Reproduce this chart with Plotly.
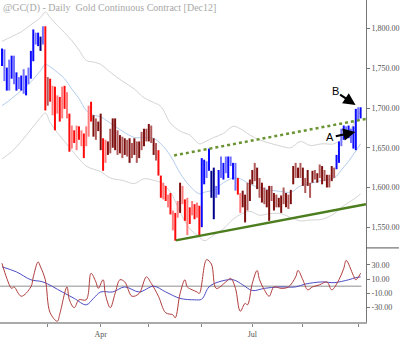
import plotly.graph_objects as go

# ---------------- data ----------------
title_text = "@GC(D) - Daily\u00a0\u00a0Gold Continuous Contract [Dec12]"

highs = [1775, 1774, 1751, 1761, 1766, 1766, 1745, 1739, 1741, 1749, 1741, 1751, 1772, 1799, 1795, 1795, 1790, 1803,
         1803, 1739, 1737, 1728, 1727, 1716, 1714, 1727, 1728, 1720, 1693, 1678, 1672, 1678, 1677, 1672, 1668, 1677,
         1703, 1708, 1691, 1687, 1683, 1693, 1662, 1660, 1658, 1674, 1687, 1687, 1672, 1666, 1664, 1662, 1660, 1662,
         1656, 1662, 1658, 1658, 1670, 1674, 1674, 1680, 1678, 1662, 1656, 1647, 1615, 1606, 1602, 1591, 1593, 1571,
         1568, 1583, 1606, 1602, 1585, 1587, 1575, 1583, 1579, 1581, 1577, 1637, 1635, 1633, 1649, 1621, 1625, 1602,
         1622, 1639, 1631, 1639, 1639, 1639, 1631, 1631, 1612, 1593, 1596, 1591, 1606, 1610, 1622, 1631, 1625, 1612,
         1606, 1600, 1597, 1602, 1602, 1593, 1591, 1587, 1590, 1600, 1593, 1591, 1597, 1627, 1631, 1625, 1631, 1625,
         1612, 1622, 1606, 1621, 1622, 1618, 1629, 1627, 1622, 1616, 1616, 1627, 1625, 1641, 1658, 1674, 1678, 1677,
         1678, 1674, 1677, 1699, 1701, 1701]
lows = [1753, 1734, 1722, 1722, 1737, 1730, 1722, 1724, 1722, 1718, 1716, 1730, 1737, 1759, 1780, 1778, 1772, 1780,
        1697, 1703, 1708, 1691, 1672, 1693, 1683, 1687, 1699, 1687, 1645, 1649, 1656, 1647, 1660, 1652, 1637, 1652,
        1664, 1683, 1664, 1660, 1671, 1647, 1621, 1631, 1641, 1643, 1650, 1647, 1641, 1643, 1637, 1641, 1639, 1631,
        1637, 1641, 1631, 1637, 1647, 1652, 1658, 1658, 1656, 1641, 1634, 1615, 1587, 1585, 1583, 1575, 1566, 1546,
        1533, 1562, 1568, 1579, 1558, 1540, 1554, 1565, 1560, 1562, 1538, 1550, 1604, 1612, 1621, 1587, 1560, 1587,
        1591, 1612, 1610, 1618, 1612, 1627, 1610, 1596, 1591, 1568, 1575, 1556, 1571, 1583, 1604, 1608, 1598, 1587,
        1581, 1579, 1575, 1558, 1583, 1571, 1575, 1575, 1568, 1579, 1575, 1573, 1579, 1604, 1612, 1612, 1612, 1602,
        1593, 1602, 1587, 1606, 1610, 1606, 1612, 1604, 1608, 1600, 1600, 1608, 1612, 1623, 1631, 1652, 1660, 1664,
        1662, 1656, 1649, 1647, 1684, 1687]
bar_codes = ("B b B b B b B b B b B b B B b B N b "
             "R m "
             "R r R r R r R r R r R r R r R r r R "
             "M m M M R r "
             "M m M M m M m M m M m M m M m M m M m M m "
             "R R r R r R r R r M r R r R r R r R "
             "B B b B N N b B b B b B b B b "
             "R r "
             "M M m M M m M m M m M M m M m M M m M m M M m M m M m M m M m M m M m M m M m "
             "B B b B b B b B B b B").split()

band_idx = [0, 4, 8, 12, 16, 18, 20, 23, 26, 29, 32, 35, 38, 41, 45, 50, 55, 59, 63, 66, 70, 74, 78, 82, 84,
            88, 92, 96, 99, 103, 107, 111, 116, 120, 124, 128, 133, 138, 141, 144, 147, 149]
upper_band = [1784, 1790, 1796, 1805, 1814, 1821, 1814, 1804, 1795, 1785, 1773, 1760, 1758, 1755, 1745, 1734,
              1724, 1713, 1707, 1702, 1681, 1671, 1666, 1655, 1657, 1663, 1668, 1677, 1674, 1666, 1660, 1656,
              1652, 1650, 1658, 1653, 1655, 1655, 1661, 1671, 1684, 1697]
mid_band = [1703, 1712, 1722, 1733, 1747, 1755, 1752, 1745, 1737, 1724, 1712, 1697, 1691, 1689, 1681, 1671,
            1663, 1663, 1662, 1655, 1640, 1618, 1602, 1592, 1594, 1597, 1606, 1612, 1611, 1604, 1600, 1597,
            1595, 1594, 1602, 1605, 1609, 1612, 1622, 1633, 1646, 1655]
lower_band = [1636, 1645, 1658, 1673, 1688, 1694, 1682, 1669, 1658, 1647, 1636, 1627, 1623, 1620, 1612, 1609,
              1605, 1611, 1609, 1606, 1594, 1569, 1548, 1538, 1533, 1540, 1548, 1560, 1566, 1570, 1565, 1567,
              1567, 1562, 1558, 1559, 1560, 1567, 1575, 1581, 1587, 1592]

osc_fast_idx = [0, 2, 4, 5, 8, 12, 13, 15, 16, 18, 20, 23, 24, 27, 28, 30, 32, 35, 37, 39, 40, 42, 43, 45, 47,
                49, 51, 54, 57, 60, 62, 65, 68, 71, 72, 74, 76, 77, 79, 81, 82, 85, 87, 89, 93, 95, 97, 99, 101,
                102, 104, 106, 107, 109, 111, 113, 116, 119, 122, 123, 125, 127, 129, 132, 135, 137, 140, 142,
                143, 146, 147, 149]
osc_fast = [32, 11, -3, -1, -14, -1, 13, 34, 27, 9, -37, -49, -39, -1, -19, -30, -19, -19, 18, 6, -3, 9, -12,
            -30, -10, 9, 6, -14, -10, 13, 4, -14, -37, -40, -44, -10, 9, -1, -5, -8, -10, 37, 31, -3, 6, 11, -3,
            -35, -24, -26, 4, 22, 9, -5, -14, -1, -3, -1, 13, 22, 9, -5, -1, 2, 6, -5, 9, 25, 36, 15, 9, 18]
osc_slow_idx = [0, 6, 12, 17, 25, 30, 35, 38, 41, 46, 51, 57, 63, 68, 74, 80, 83, 86, 90, 96, 100, 104, 109,
                115, 122, 126, 133, 138, 144, 147, 149]
osc_slow = [27, 20, 9, 6, -8, -17, -26, -17, -8, -8, -1, -8, 0, -8, -17, -19, -18, -1, 6, 9, 2, -6, -3, -1, -1,
            3, 6, 5, 9, 12, 13]

# trend lines (bar index, price)
resist_idx = [71.5, 151.2]
resist_px = [1640.4, 1686.4]
support_idx = [72.2, 151.2]
support_px = [1533.4, 1579.0]

month_idx = [19, 41, 61, 83, 104, 125, 148]
month_text = ["", "Apr", "", "", "Jul", "", ""]
price_ticks = [1550, 1600, 1650, 1700, 1750, 1800]
osc_ticks = [30, 10, -10, -30]
osc_tick_text = ["30.00", "10.00", "-10.00", "-30.00"]

# annotations: (label, text idx, text price, head idx, head price)
callouts = [("A", 136.4, 1663.0, 146.8, 1670.0), ("B", 138.4, 1721.0, 146.9, 1704.0)]

# ---------------- styles ----------------
bar_colors = {"B": "#0a0aff", "b": "#7373ff", "N": "#00008a", "R": "#ff0a0a", "r": "#ff7c7c",
              "M": "#7d0f0f", "m": "#b05a5a"}
serif = "Liberation Serif"

fig = go.Figure()

# bands
for vals, col in [(upper_band, "#d4d4d4"), (lower_band, "#d4d4d4"), (mid_band, "#b3cdee")]:
    fig.add_trace(go.Scatter(x=band_idx, y=vals, mode="lines", line=dict(color=col, width=1, shape="spline"),
                             xaxis="x2", yaxis="y2", hoverinfo="skip"))

# bars
for code, col in bar_colors.items():
    xs, ys = [], []
    for i, (h, l, c) in enumerate(zip(highs, lows, bar_codes)):
        if c == code:
            xs += [i, i, None]
            ys += [l, h, None]
    if xs:
        fig.add_trace(go.Scatter(x=xs, y=ys, mode="lines", line=dict(color=col, width=2),
                                 xaxis="x2", yaxis="y2", hoverinfo="skip"))

# trend lines
fig.add_trace(go.Scatter(x=resist_idx, y=resist_px, mode="lines",
                         line=dict(color="#6a9431", width=2.5, dash="dot"), xaxis="x2", yaxis="y2"))
fig.add_trace(go.Scatter(x=support_idx, y=support_px, mode="lines",
                         line=dict(color="#4c7d1e", width=2.5), xaxis="x2", yaxis="y2"))

# oscillator panel
fig.add_trace(go.Scatter(x=[-1, 149.3], y=[0, 0], mode="lines", line=dict(color="#b4b4b4", width=1.5),
                         xaxis="x", yaxis="y"))
fig.add_trace(go.Scatter(x=osc_slow_idx, y=osc_slow, mode="lines",
                         line=dict(color="#4d4dc4", width=1, shape="spline"), xaxis="x", yaxis="y"))
fig.add_trace(go.Scatter(x=osc_fast_idx, y=osc_fast, mode="lines",
                         line=dict(color="#b03c3c", width=1, shape="spline"), xaxis="x", yaxis="y"))

split = 75 / 326.0
xr = [-0.83, 151.24]
tickfont = dict(family=serif, size=8, color="#555555")

annotations = [dict(text=title_text, xref="paper", yref="paper", x=0.004, y=1.0, xanchor="left", yanchor="top",
                    showarrow=False, font=dict(family=serif, size=10, color="#a8a8a8"))]
for lab, tx, ty, hx, hy in callouts:
    annotations.append(dict(text=lab, x=hx, y=hy, ax=tx, ay=ty, xref="x2", yref="y2", axref="x2", ayref="y2",
                            showarrow=True, arrowhead=2, arrowsize=1.1, arrowwidth=2.2, arrowcolor="#000000",
                            font=dict(family="Liberation Sans", size=11, color="#000000")))

fig.update_layout(
    width=400, height=339, margin=dict(l=0, r=32, t=0, b=13),
    paper_bgcolor="white", plot_bgcolor="white", showlegend=False,
    xaxis=dict(domain=[0, 1], range=xr, anchor="y", tickvals=month_idx, ticktext=month_text,
               ticks="outside", ticklen=3, tickcolor="#888888", showline=True, linecolor="#aaaaaa",
               linewidth=2, showgrid=False, zeroline=False, tickfont=tickfont),
    xaxis2=dict(domain=[0, 1], range=xr, anchor="y2", matches="x", showticklabels=False, ticks="",
                showgrid=False, zeroline=False, showline=False),
    yaxis=dict(domain=[0, split], range=[-50, 53.5], side="right", anchor="x", tickvals=osc_ticks,
               ticktext=osc_tick_text, ticks="outside", ticklen=3, tickcolor="#777777", showline=True,
               linecolor="#777777", linewidth=1, showgrid=False, zeroline=False, tickfont=tickfont),
    yaxis2=dict(domain=[split, 1], range=[1523.9, 1836.1], side="right", anchor="x2", tickvals=price_ticks,
                tickformat=",.2f", ticks="outside", ticklen=3, tickcolor="#777777", showline=True,
                linecolor="#777777", linewidth=1, showgrid=False, zeroline=False, tickfont=tickfont),
    annotations=annotations,
    shapes=[dict(type="line", xref="paper", yref="paper", x0=1, x1=1.09, y0=split, y1=split,
                 line=dict(color="#555555", width=1))],
)

fig.write_html("out.html", config={"displayModeBar": False})
